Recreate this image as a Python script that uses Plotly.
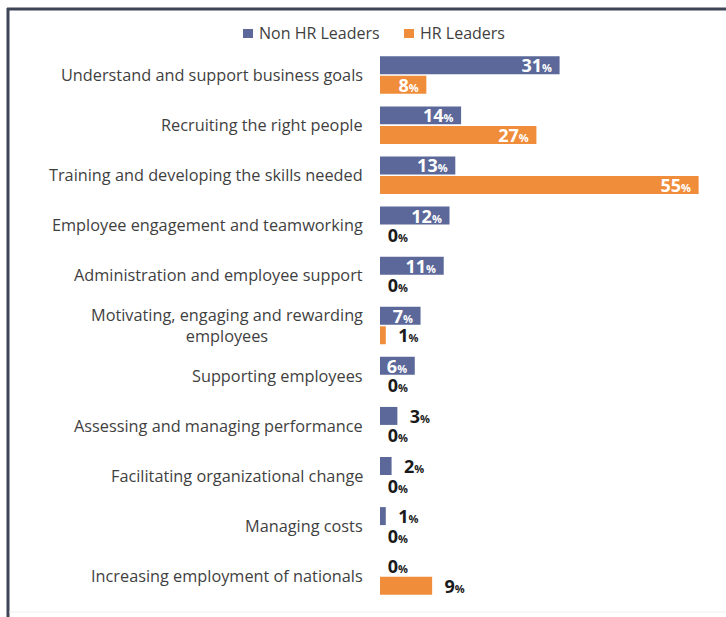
import plotly.graph_objects as go

categories = [
    "Understand and support business goals",
    "Recruiting the right people",
    "Training and developing the skills needed",
    "Employee engagement and teamworking",
    "Administration and employee support",
    "Motivating, engaging and rewarding<br>employees",
    "Supporting employees",
    "Assessing and managing performance",
    "Facilitating organizational change",
    "Managing costs",
    "Increasing employment of nationals",
]
non_hr = [31, 14, 13, 12, 11, 7, 6, 3, 2, 1, 0]
hr = [8, 27, 55, 0, 0, 1, 0, 0, 0, 0, 9]
series_names = ["Non HR Leaders", "HR Leaders"]
# which value labels sit inside their bar
non_hr_inside = [True, True, True, True, True, True, True, False, False, False, False]
hr_inside = [True, True, True, False, False, False, False, False, False, False, False]

W, H = 726, 617
M_L, M_R, M_T, M_B = 380, 10, 50, 16
X_MAX = 58

BLUE = "#5b6899"
ORANGE = "#f08d3b"
TEXT = "#3f3f3f"
FONT = "Open Sans"
NB = "\u00a0"


def label(v, inside):
    body = f"<b>{v}</b><span style='font-size:11px'><b>%</b></span>"
    if inside:
        return body + NB
    return (NB if v == 0 else NB * 2) + body


fig = go.Figure()
for name, vals, inside, color in [
    (series_names[0], non_hr, non_hr_inside, BLUE),
    (series_names[1], hr, hr_inside, ORANGE),
]:
    fig.add_trace(go.Bar(
        y=categories, x=vals, name=name, orientation="h",
        marker=dict(color=color, line=dict(width=0)),
        text=[label(v, f) for v, f in zip(vals, inside)],
        textposition=["inside" if f else "outside" for f in inside],
        textangle=0,
        insidetextanchor="end",
        insidetextfont=dict(family=FONT, size=18, color="white"),
        outsidetextfont=dict(family=FONT, size=18, color="#1a1a1a"),
        constraintext="none",
        cliponaxis=False,
        hoverinfo="skip",
        showlegend=False,
    ))

# category labels drawn as centred annotations
for c in categories:
    fig.add_annotation(
        x=0, xref="paper", y=c, yref="y", text=c, showarrow=False,
        xanchor="right", xshift=-15, align="center",
        font=dict(family=FONT, size=16.3, color=TEXT),
    )

pw = W - M_L - M_R
ph = H - M_T - M_B


def px_x(px):
    return (px - M_L) / pw


def px_y(py):
    return 1 - (py - M_T) / ph


# legend: square swatch followed by the series name
for name, color, sx in [(series_names[0], BLUE, 243), (series_names[1], ORANGE, 404)]:
    fig.add_shape(type="rect", xref="paper", yref="paper",
                  x0=px_x(sx), x1=px_x(sx + 10), y0=px_y(29), y1=px_y(38),
                  fillcolor=color, line=dict(width=0))
    fig.add_annotation(x=px_x(sx + 14), xref="paper", y=px_y(33), yref="paper",
                       text=name, showarrow=False, xanchor="left", yanchor="middle",
                       font=dict(family=FONT, size=16, color=TEXT))

# frame lines along the top and left edges
FRAME = "#3e4557"
fig.add_shape(type="line", xref="paper", yref="paper",
              x0=px_x(7), x1=px_x(W), y0=px_y(9), y1=px_y(9),
              line=dict(color=FRAME, width=3))
fig.add_shape(type="line", xref="paper", yref="paper",
              x0=px_x(8), x1=px_x(8), y0=px_y(8), y1=px_y(H),
              line=dict(color=FRAME, width=3))
fig.add_shape(type="line", xref="paper", yref="paper",
              x0=px_x(9), x1=px_x(W), y0=px_y(612), y1=px_y(612),
              line=dict(color="#eeeeee", width=1))

fig.update_layout(
    width=W, height=H,
    margin=dict(l=M_L, r=M_R, t=M_T, b=M_B),
    paper_bgcolor="white", plot_bgcolor="white",
    barmode="group", bargap=0.22, bargroupgap=0.08,
    showlegend=False,
    xaxis=dict(range=[0, X_MAX], visible=False),
    yaxis=dict(autorange="reversed", showticklabels=False, showgrid=False,
               zeroline=False, showline=False, ticks=""),
    font=dict(family=FONT),
)

fig.write_html("out.html")
